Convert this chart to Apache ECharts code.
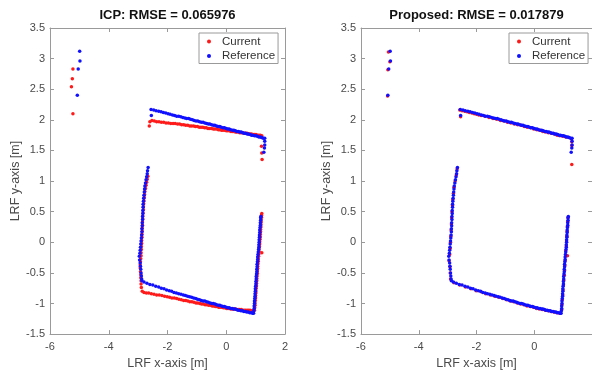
<!DOCTYPE html>
<html>
<head>
<meta charset="utf-8">
<script src="https://cdn.jsdelivr.net/npm/echarts@6/dist/echarts.min.js"></script>
<style>
html,body{margin:0;padding:0;background:#fff;}
#chart{width:592px;height:375px;}
</style>
</head>
<body>
<div id="chart"></div>
<script>
// ---------------- DATA ----------------
const titles = ['ICP: RMSE = 0.065976', 'Proposed: RMSE = 0.017879'];
const xAxisName = 'LRF x-axis [m]';
const yAxisName = 'LRF y-axis [m]';
const seriesNames = ['Current', 'Reference'];
const xTicks = { min: -6, max: 2, step: 2 };
const yTicks = { min: -1.5, max: 3.5, step: 0.5 };

// Reference scan (same in both panels)
const referenceScan = [
  [-4.99,3.12],[-4.98,2.96],[-5.04,2.83],[-5.07,2.40],
  [-2.55,2.07],[-2.56,2.17],[-2.47,2.16],[-2.39,2.15],[-2.30,2.14],[-2.22,2.13],[-2.14,2.12],[-2.06,2.11],
  [-1.98,2.10],[-1.91,2.09],[-1.83,2.08],[-1.76,2.07],[-1.69,2.06],[-1.62,2.06],[-1.55,2.05],[-1.48,2.04],
  [-1.41,2.03],[-1.35,2.02],[-1.28,2.02],[-1.22,2.01],[-1.15,2.00],[-1.09,1.99],[-1.03,1.98],[-0.97,1.98],
  [-0.91,1.97],[-0.85,1.96],[-0.79,1.96],[-0.73,1.95],[-0.67,1.94],[-0.61,1.93],[-0.56,1.93],[-0.50,1.92],
  [-0.44,1.91],[-0.39,1.91],[-0.33,1.90],[-0.28,1.89],[-0.22,1.89],[-0.17,1.88],[-0.11,1.87],[-0.06,1.87],
  [0.00,1.86],[0.05,1.85],[0.10,1.85],[0.15,1.84],[0.21,1.83],[0.26,1.83],[0.31,1.82],[0.36,1.81],
  [0.41,1.81],[0.46,1.80],[0.51,1.80],[0.56,1.79],[0.61,1.78],[0.66,1.78],[0.71,1.77],[0.76,1.77],
  [0.81,1.76],[0.86,1.75],[0.91,1.75],[0.96,1.74],[1.01,1.74],[1.06,1.73],[1.11,1.72],[1.16,1.72],
  [1.21,1.71],[1.26,1.70],[1.31,1.70],
  [1.31,1.65],[1.31,1.59],[1.30,1.54],[1.28,1.47],
  [-2.66,1.22],[-2.68,1.17],[-2.69,1.12],[-2.71,1.07],[-2.73,1.02],[-2.75,0.97],[-2.77,0.92],[-2.78,0.87],
  [-2.79,0.82],[-2.80,0.77],[-2.81,0.72],[-2.82,0.67],[-2.83,0.62],[-2.83,0.57],[-2.84,0.52],[-2.84,0.47],
  [-2.85,0.42],[-2.85,0.37],[-2.86,0.32],[-2.86,0.27],[-2.87,0.22],[-2.87,0.17],[-2.88,0.12],[-2.89,0.07],
  [-2.90,0.02],[-2.91,-0.03],[-2.92,-0.08],[-2.93,-0.13],[-2.94,-0.18],[-2.96,-0.23],[-2.95,-0.29],[-2.93,-0.34],
  [-2.92,-0.39],[-2.91,-0.44],[-2.90,-0.50],[-2.89,-0.55],[-2.88,-0.60],[-2.87,-0.63],
  [-2.80,-0.65],[-2.70,-0.67],[-2.60,-0.69],[-2.50,-0.70],[-2.40,-0.72],[-2.30,-0.73],[-2.21,-0.75],[-2.12,-0.76],
  [-2.03,-0.78],[-1.94,-0.79],[-1.86,-0.80],[-1.78,-0.82],[-1.70,-0.83],[-1.62,-0.84],[-1.54,-0.85],[-1.46,-0.86],
  [-1.39,-0.87],[-1.32,-0.88],[-1.25,-0.89],[-1.18,-0.90],[-1.11,-0.91],[-1.04,-0.92],[-0.98,-0.93],[-0.91,-0.94],
  [-0.85,-0.95],[-0.79,-0.96],[-0.73,-0.96],[-0.67,-0.97],[-0.61,-0.98],[-0.55,-0.99],[-0.49,-1.00],[-0.44,-1.00],
  [-0.38,-1.01],[-0.33,-1.02],[-0.27,-1.03],[-0.22,-1.03],[-0.16,-1.04],[-0.11,-1.05],[-0.06,-1.05],[0.00,-1.06],
  [0.05,-1.07],[0.10,-1.07],[0.15,-1.08],[0.20,-1.08],[0.25,-1.09],[0.30,-1.09],[0.35,-1.10],[0.40,-1.11],
  [0.45,-1.11],[0.50,-1.12],[0.55,-1.12],[0.60,-1.13],[0.65,-1.13],[0.70,-1.14],[0.75,-1.14],[0.80,-1.15],
  [0.85,-1.15],[0.90,-1.16],[0.93,-1.16],
  [0.94,-1.12],[0.95,-1.08],[0.95,-1.04],[0.96,-1.00],[0.96,-0.96],[0.97,-0.92],[0.98,-0.88],[0.98,-0.84],
  [0.99,-0.80],[0.99,-0.76],[1.00,-0.72],[1.01,-0.68],[1.01,-0.64],[1.02,-0.60],[1.02,-0.56],[1.03,-0.52],
  [1.04,-0.48],[1.04,-0.44],[1.05,-0.40],[1.05,-0.36],[1.06,-0.32],[1.07,-0.28],[1.07,-0.24],[1.08,-0.20],
  [1.09,-0.16],[1.10,-0.12],[1.11,-0.08],[1.11,-0.04],[1.12,0.00],[1.12,0.04],[1.13,0.08],[1.13,0.12],
  [1.14,0.16],[1.14,0.20],[1.15,0.24],[1.16,0.28],[1.16,0.32],[1.17,0.36],[1.17,0.40],[1.18,0.42]
];

// Current scan aligned by ICP (left panel)
const icpCurrent = [
  [-5.22,2.83],[-5.24,2.67],[-5.27,2.54],[-5.22,2.10],
  [-2.62,1.90],[-2.60,1.97],[-2.53,1.99],[-2.45,1.98],[-2.37,1.97],[-2.29,1.97],[-2.21,1.96],[-2.13,1.96],
  [-2.05,1.95],[-1.97,1.95],[-1.89,1.94],[-1.81,1.94],[-1.74,1.94],[-1.66,1.93],[-1.59,1.93],[-1.52,1.92],
  [-1.45,1.92],[-1.38,1.91],[-1.31,1.91],[-1.24,1.90],[-1.18,1.90],[-1.11,1.90],[-1.05,1.89],[-0.98,1.89],
  [-0.92,1.88],[-0.86,1.88],[-0.80,1.88],[-0.74,1.87],[-0.68,1.87],[-0.62,1.86],[-0.56,1.86],[-0.50,1.86],
  [-0.44,1.85],[-0.39,1.85],[-0.33,1.85],[-0.27,1.84],[-0.22,1.84],[-0.16,1.83],[-0.11,1.83],[-0.05,1.83],
  [0.00,1.82],[0.05,1.82],[0.11,1.82],[0.16,1.81],[0.21,1.81],[0.26,1.81],[0.31,1.80],[0.36,1.80],
  [0.41,1.80],[0.46,1.79],[0.51,1.79],[0.56,1.79],[0.61,1.78],[0.66,1.78],[0.71,1.78],[0.76,1.77],
  [0.81,1.77],[0.86,1.77],[0.91,1.76],[0.96,1.76],[1.01,1.76],[1.06,1.75],[1.11,1.75],[1.16,1.75],[1.21,1.74],
  [1.21,1.71],[1.20,1.57],[1.21,1.46],[1.22,1.35],
  [-2.67,1.08],[-2.69,1.03],[-2.71,0.98],[-2.73,0.93],[-2.75,0.88],[-2.77,0.83],[-2.78,0.78],[-2.79,0.73],
  [-2.80,0.68],[-2.81,0.63],[-2.82,0.58],[-2.82,0.53],[-2.83,0.48],[-2.84,0.43],[-2.84,0.38],[-2.85,0.33],
  [-2.85,0.28],[-2.86,0.23],[-2.86,0.18],[-2.87,0.13],[-2.87,0.08],[-2.88,0.03],[-2.88,-0.02],[-2.89,-0.07],
  [-2.89,-0.12],[-2.90,-0.17],[-2.90,-0.22],[-2.91,-0.27],[-2.92,-0.32],[-2.93,-0.37],[-2.93,-0.42],[-2.92,-0.48],
  [-2.91,-0.53],[-2.91,-0.58],[-2.90,-0.63],[-2.90,-0.68],[-2.89,-0.74],[-2.86,-0.80],
  [-2.80,-0.82],[-2.72,-0.83],[-2.64,-0.83],[-2.55,-0.84],[-2.46,-0.85],[-2.37,-0.86],[-2.28,-0.86],[-2.19,-0.87],
  [-2.10,-0.88],[-2.01,-0.89],[-1.93,-0.90],[-1.85,-0.91],[-1.77,-0.91],[-1.69,-0.92],[-1.61,-0.93],[-1.53,-0.94],
  [-1.45,-0.95],[-1.38,-0.95],[-1.31,-0.96],[-1.24,-0.97],[-1.17,-0.97],[-1.10,-0.98],[-1.03,-0.99],[-0.97,-0.99],
  [-0.90,-1.00],[-0.84,-1.01],[-0.78,-1.01],[-0.72,-1.02],[-0.66,-1.02],[-0.60,-1.03],[-0.54,-1.03],[-0.48,-1.04],
  [-0.43,-1.04],[-0.37,-1.05],[-0.32,-1.05],[-0.26,-1.06],[-0.21,-1.06],[-0.15,-1.06],[-0.10,-1.07],[-0.05,-1.07],
  [0.01,-1.08],[0.06,-1.08],[0.11,-1.08],[0.16,-1.09],[0.21,-1.09],[0.26,-1.09],[0.31,-1.09],[0.36,-1.10],
  [0.41,-1.10],[0.46,-1.10],[0.51,-1.10],[0.56,-1.11],[0.61,-1.11],[0.66,-1.11],[0.71,-1.11],[0.76,-1.11],
  [0.81,-1.11],[0.86,-1.12],[0.91,-1.12],[0.96,-1.11],
  [0.97,-1.07],[0.98,-1.03],[0.98,-0.99],[0.99,-0.95],[1.00,-0.91],[1.00,-0.87],[1.01,-0.83],[1.01,-0.79],
  [1.02,-0.75],[1.03,-0.71],[1.03,-0.67],[1.04,-0.63],[1.04,-0.59],[1.05,-0.55],[1.06,-0.51],[1.06,-0.47],
  [1.07,-0.43],[1.07,-0.39],[1.08,-0.35],[1.09,-0.31],[1.09,-0.27],[1.10,-0.23],[1.21,-0.17],[1.11,-0.19],
  [1.12,-0.15],[1.12,-0.11],[1.13,-0.07],[1.14,-0.03],[1.14,0.01],[1.15,0.05],[1.16,0.09],[1.16,0.13],
  [1.17,0.17],[1.17,0.21],[1.18,0.25],[1.18,0.29],[1.19,0.33],[1.19,0.37],[1.20,0.41],[1.20,0.44],[1.21,0.47]
];

// Current scan aligned by the proposed method (right panel)
const proposedCurrent = [
  [-5.05,3.11],[-5.00,2.95],[-5.07,2.82],[-5.08,2.39],
  [-2.58,2.16],[-2.55,2.05],[-2.50,2.15],[-2.41,2.14],[-2.33,2.13],[-2.25,2.12],[-2.16,2.11],[-2.08,2.10],
  [-2.00,2.09],[-1.92,2.08],[-1.84,2.07],[-1.71,2.06],[-1.57,2.04],[-1.43,2.02],[-1.30,2.01],[-1.17,1.99],
  [-1.05,1.98],[-0.93,1.96],[-0.81,1.95],[-0.69,1.93],[-0.57,1.92],[-0.46,1.91],[-0.35,1.89],[-0.24,1.88],
  [-0.13,1.87],[-0.02,1.85],[0.09,1.84],[0.19,1.83],[0.29,1.81],[0.39,1.80],[0.49,1.79],[0.59,1.78],
  [0.69,1.77],[0.79,1.75],[0.89,1.74],[0.99,1.73],[1.09,1.72],[1.19,1.71],[1.29,1.69],
  [1.30,1.64],[1.30,1.58],[1.30,1.27],
  [-2.67,1.20],[-2.70,1.10],[-2.74,1.00],[-2.78,0.90],[-2.80,0.80],[-2.82,0.70],[-2.83,0.60],[-2.85,0.50],
  [-2.86,0.40],[-2.87,0.30],[-2.88,0.20],[-2.89,0.10],[-2.90,0.00],[-2.91,-0.10],[-2.93,-0.20],[-2.95,-0.30],
  [-2.92,-0.40],[-2.91,-0.50],[-2.90,-0.60],
  [-2.78,-0.66],[-2.58,-0.70],[-2.38,-0.73],[-2.19,-0.76],[-2.01,-0.79],[-1.84,-0.81],[-1.68,-0.84],[-1.52,-0.86],
  [-1.37,-0.88],[-1.23,-0.90],[-1.09,-0.92],[-0.96,-0.94],[-0.83,-0.96],[-0.71,-0.97],[-0.59,-0.99],[-0.47,-1.01],
  [-0.36,-1.02],[-0.25,-1.04],[-0.14,-1.05],[-0.03,-1.06],[0.08,-1.08],[0.18,-1.09],[0.28,-1.10],[0.38,-1.11],
  [0.48,-1.12],[0.58,-1.13],[0.68,-1.14],[0.78,-1.15],[0.88,-1.16],
  [0.95,-1.10],[0.96,-1.02],[0.97,-0.94],[0.99,-0.86],[1.00,-0.78],[1.01,-0.70],[1.02,-0.62],[1.04,-0.54],
  [1.05,-0.46],[1.06,-0.38],[1.07,-0.30],[1.15,-0.22],[1.09,-0.14],[1.11,-0.06],[1.12,0.02],[1.13,0.10],
  [1.14,0.18],[1.15,0.26],[1.16,0.34],[1.17,0.40]
];

// ---------------- CHART ----------------
const FONT = '"Liberation Sans", Arial, Helvetica, sans-serif';
const RED = '#ff1a1a';
const BLUE = '#1010ff';
const AXIS_COLOR = '#9a9a9a';
const LABEL_COLOR = '#4a4a4a';

const grids = [
  { left: 50, top: 28, width: 235, height: 311 },
  { left: 361, top: 28, width: 235, height: 311 }
];

function xAx(gi, pos, opts) {
  return Object.assign({
    type: 'value', gridIndex: gi, position: pos,
    min: xTicks.min, max: xTicks.max, interval: xTicks.step,
    axisLine: { show: true, onZero: false, lineStyle: { color: AXIS_COLOR, width: 1 } },
    axisTick: { show: true, inside: true, length: 4, lineStyle: { color: AXIS_COLOR } },
    splitLine: { show: false },
    axisLabel: { show: false }
  }, opts || {});
}
function yAx(gi, pos, opts) {
  return Object.assign({
    type: 'value', gridIndex: gi, position: pos,
    min: yTicks.min, max: yTicks.max, interval: yTicks.step,
    axisLine: { show: true, onZero: false, lineStyle: { color: AXIS_COLOR, width: 1 } },
    axisTick: { show: true, inside: true, length: 4, lineStyle: { color: AXIS_COLOR } },
    splitLine: { show: false },
    axisLabel: { show: false }
  }, opts || {});
}

const xAxes = [];
const yAxes = [];
[0, 1].forEach(function (gi) {
  xAxes.push(xAx(gi, 'bottom', {
    name: xAxisName, nameLocation: 'middle', nameGap: 22,
    nameTextStyle: { color: LABEL_COLOR, fontSize: 12.5, fontFamily: FONT },
    axisLabel: { show: true, color: LABEL_COLOR, fontSize: 11, fontFamily: FONT, margin: 7,
                 showMaxLabel: gi === 0 }
  }));
  xAxes.push(xAx(gi, 'top', {
    name: titles[gi], nameLocation: 'middle', nameGap: 6,
    nameTextStyle: { color: '#111', fontSize: 13, fontWeight: 'bold', fontFamily: FONT }
  }));
  yAxes.push(yAx(gi, 'left', {
    name: yAxisName, nameLocation: 'middle', nameGap: 28, nameRotate: 90,
    nameTextStyle: { color: LABEL_COLOR, fontSize: 12.5, fontFamily: FONT },
    axisLabel: { show: true, color: LABEL_COLOR, fontSize: 11, fontFamily: FONT, margin: 5 }
  }));
  yAxes.push(yAx(gi, 'right'));
});

function scatter(name, data, gi, color) {
  return {
    type: 'scatter', name: name, data: data,
    xAxisIndex: gi * 2, yAxisIndex: gi * 2,
    symbol: 'circle', symbolSize: 3.5,
    itemStyle: { color: color, opacity: 1 },
    silent: true, animation: false
  };
}

function legendAt(left) {
  return {
    left: left, top: 33, orient: 'vertical',
    data: seriesNames.map(function (n) { return { name: n, icon: 'circle' }; }),
    itemWidth: 16, itemHeight: 4, itemGap: 1.5,
    padding: [2, 3, 1, 8],
    borderColor: '#9a9a9a', borderWidth: 1, backgroundColor: '#fff',
    selectedMode: false,
    textStyle: { color: '#333', fontSize: 11.5, fontFamily: FONT, lineHeight: 13 }
  };
}

const chart = echarts.init(document.getElementById('chart'), null, { renderer: 'canvas' });
chart.setOption({
  backgroundColor: '#fff',
  animation: false,
  grid: grids,
  xAxis: xAxes,
  yAxis: yAxes,
  legend: [legendAt(199), legendAt(509)],
  series: [
    scatter(seriesNames[0], icpCurrent, 0, RED),
    scatter(seriesNames[1], referenceScan, 0, BLUE),
    scatter(seriesNames[0], proposedCurrent, 1, RED),
    scatter(seriesNames[1], referenceScan, 1, BLUE)
  ]
});
</script>
</body>
</html>
